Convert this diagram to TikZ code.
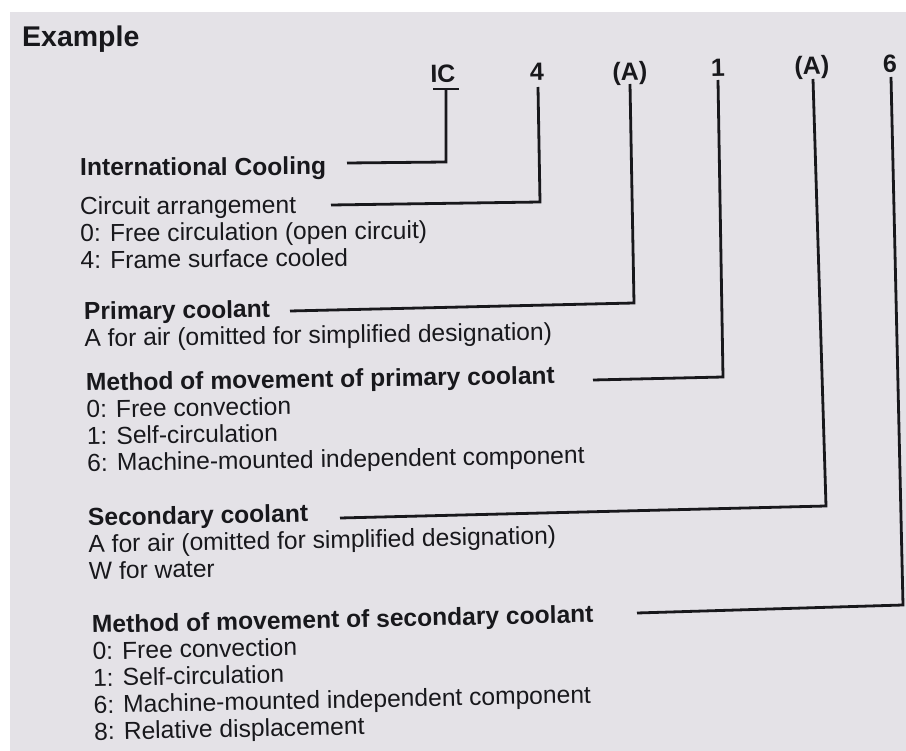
\documentclass[tikz,border=0pt]{standalone}
\usepackage{fontspec}
\setmainfont{Liberation Sans}
\definecolor{paper}{RGB}{228,226,231}
\definecolor{ink}{RGB}{24,24,28}
\newcommand{\blk}[1]{\begin{tabular}[t]{@{}l@{}}#1\end{tabular}}
\begin{document}
\begin{tikzpicture}[x=1pt,y=-1pt,
  txt/.style={anchor=base west,inner sep=0pt,font=\fontsize{24.6}{26.8}\selectfont,text=ink},
  hd/.style={txt,font=\fontsize{24.6}{26.8}\selectfont\bfseries},
  code/.style={anchor=base,inner sep=0pt,font=\fontsize{25}{27}\selectfont\bfseries,text=ink,rotate=1},
  conn/.style={line width=2.8pt,draw=ink,line cap=butt,line join=miter}]
\useasboundingbox (0,0) rectangle (906,751);
\fill[white] (0,0) rectangle (906,751);
\fill[paper] (10,12) rectangle (906,751);

% title
\node[hd,font=\fontsize{28.5}{30}\selectfont\bfseries] (ex) at (22,47) {Example};

% designation codes
\node[code] (cIC) at (443,82) {IC};
\node[code] (c4)  at (537,80) {4};
\node[code] (cA1) at (630,80) {(A)};
\node[code] (c1)  at (718,76) {1};
\node[code] (cA2) at (812,74) {(A)};
\node[code] (c6)  at (890,72) {6};

% text blocks
\node[hd,rotate=0.3] (t1) at (80,176) {International Cooling};
\node[txt,rotate=0.5] (t2) at (80,215) {\blk{Circuit arrangement\\
  0: Free circulation (open circuit)\\
  4: Frame surface cooled}};
\node[txt,rotate=0.8] (t5) at (84,320) {\blk{\textbf{Primary coolant}\\
  A for air (omitted for simplified designation)}};
\node[txt,rotate=0.9] (t7) at (86,391) {\blk{\textbf{Method of movement of primary coolant}\\
  0: Free convection\\
  1: Self-circulation\\
  6: Machine-mounted independent component}};
\node[txt,rotate=1.1] (t11) at (88,526) {\blk{\textbf{Secondary coolant}\\
  A for air (omitted for simplified designation)\\
  W for water}};
\node[txt,rotate=1.2] (t14) at (92,633) {\blk{\textbf{Method of movement of secondary coolant}\\
  0: Free convection\\
  1: Self-circulation\\
  6: Machine-mounted independent component\\
  8: Relative displacement}};

% connector points
\coordinate (icBL) at (433,89);
\coordinate (icBR) at (459,89);
\coordinate (icT)  at (446,89);
\coordinate (icC)  at (446,162);
\coordinate (icE)  at (347,163);

\coordinate (fT) at (538,87);
\coordinate (fC) at (540,202);
\coordinate (fE) at (331,205);

\coordinate (aT) at (630,84);
\coordinate (aC) at (634,303);
\coordinate (aE) at (290,311);

\coordinate (oT) at (718,80);
\coordinate (oC) at (723,377);
\coordinate (oE) at (593,380);

\coordinate (bT) at (813,79);
\coordinate (bC) at (826,506);
\coordinate (bE) at (340,518);

\coordinate (sT) at (891,77);
\coordinate (sC) at (903,605);
\coordinate (sE) at (637,613);

% connectors
\draw[conn] (icBL) -- (icBR);
\draw[conn] (icT) -- (icC) -- (icE);
\draw[conn] (fT) -- (fC) -- (fE);
\draw[conn] (aT) -- (aC) -- (aE);
\draw[conn] (oT) -- (oC) -- (oE);
\draw[conn] (bT) -- (bC) -- (bE);
\draw[conn] (sT) -- (sC) -- (sE);
\end{tikzpicture}
\end{document}
